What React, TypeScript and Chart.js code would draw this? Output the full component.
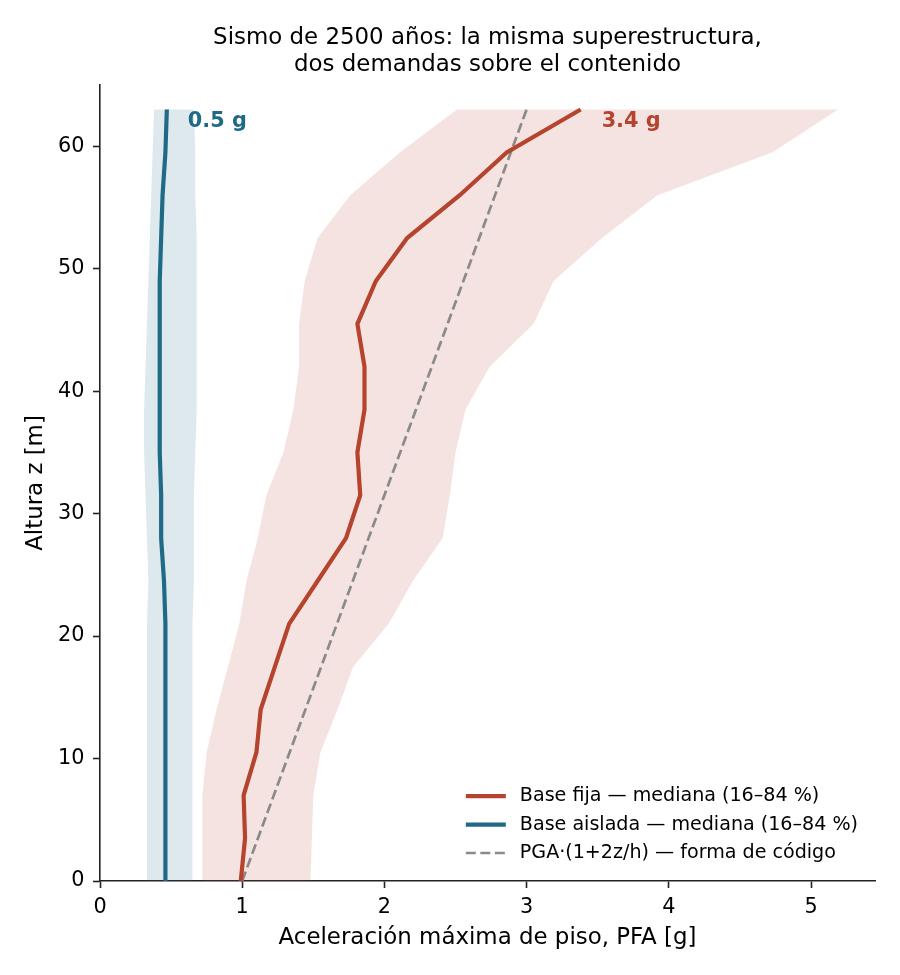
import { useEffect, useRef } from 'react';
import { Chart, registerables } from 'chart.js';

Chart.register(...registerables);

// Floor heights [m]
const HEIGHTS = [0, 3.5, 7, 10.5, 14, 17.5, 21, 24.5, 28, 31.5, 35, 38.5, 42, 45.5, 49, 52.5, 56, 59.5, 63];

// Fixed-base building: PFA median and 16/84 % fractiles [g]
const FIXED_MEDIAN = [0.99, 1.02, 1.01, 1.10, 1.13, 1.23, 1.33, 1.53, 1.73, 1.83, 1.81, 1.86, 1.86, 1.81, 1.94, 2.16, 2.53, 2.86, 3.38];
const FIXED_P16 = [0.72, 0.72, 0.72, 0.75, 0.82, 0.90, 0.98, 1.03, 1.11, 1.17, 1.29, 1.36, 1.40, 1.40, 1.44, 1.53, 1.76, 2.11, 2.51];
const FIXED_P84 = [1.48, 1.49, 1.50, 1.55, 1.67, 1.78, 2.03, 2.20, 2.41, 2.46, 2.50, 2.57, 2.74, 3.05, 3.19, 3.53, 3.92, 4.73, 5.19];

// Base-isolated building: PFA median and 16/84 % fractiles [g]
const ISO_MEDIAN = [0.46, 0.46, 0.46, 0.46, 0.46, 0.46, 0.46, 0.45, 0.43, 0.43, 0.42, 0.42, 0.42, 0.42, 0.42, 0.43, 0.44, 0.46, 0.47];
const ISO_P16 = [0.33, 0.33, 0.33, 0.33, 0.33, 0.33, 0.33, 0.34, 0.33, 0.32, 0.31, 0.31, 0.32, 0.33, 0.34, 0.35, 0.36, 0.37, 0.38];
const ISO_P84 = [0.65, 0.65, 0.65, 0.65, 0.65, 0.65, 0.65, 0.66, 0.66, 0.66, 0.67, 0.68, 0.68, 0.68, 0.68, 0.68, 0.67, 0.67, 0.66];

// Code-type linear amplification profile: end points (z, PFA)
const CODE_HEIGHTS = [0, 63];
const CODE_PFA = [1.0, 3.0];

const X_TICKS = [0, 1, 2, 3, 4, 5];
const Y_TICKS = [0, 10, 20, 30, 40, 50, 60];

const TITLE_LINES = ['Sismo de 2500 años: la misma superestructura,', 'dos demandas sobre el contenido'];
const X_LABEL = 'Aceleración máxima de piso, PFA [g]';
const Y_LABEL = 'Altura z [m]';
const SERIES_LABELS = [
  'Base fija — mediana (16–84 %)',
  'Base aislada — mediana (16–84 %)',
  'PGA·(1+2z/h) — forma de código',
];

const FONT = '"DejaVu Sans", sans-serif';
const RED = '#b5432d';
const BLUE = '#1f6b87';
const GRAY = '#8a8a8a';
const RED_BAND = 'rgba(181, 67, 45, 0.15)';
const BLUE_BAND = 'rgba(31, 107, 135, 0.15)';
const AXIS = '#222222';

const toPoints = (xs: number[], zs: number[]) => xs.map((v, i) => ({ x: v, y: zs[i] }));

const bands = [
  { lo: ISO_P16, hi: ISO_P84, color: BLUE_BAND },
  { lo: FIXED_P16, hi: FIXED_P84, color: RED_BAND },
];

const topLabels = [
  { values: ISO_MEDIAN, color: BLUE },
  { values: FIXED_MEDIAN, color: RED },
];

const profilePlugin = {
  id: 'profileExtras',
  beforeDatasetsDraw(chart: any) {
    const { ctx, chartArea, scales } = chart;
    const xs = scales.x;
    const ys = scales.y;
    ctx.save();
    ctx.beginPath();
    ctx.rect(chartArea.left, chartArea.top, chartArea.right - chartArea.left, chartArea.bottom - chartArea.top);
    ctx.clip();
    for (const band of bands) {
      ctx.beginPath();
      HEIGHTS.forEach((z, i) => {
        const px = xs.getPixelForValue(band.lo[i]);
        const py = ys.getPixelForValue(z);
        if (i === 0) ctx.moveTo(px, py);
        else ctx.lineTo(px, py);
      });
      for (let i = HEIGHTS.length - 1; i >= 0; i--) {
        ctx.lineTo(xs.getPixelForValue(band.hi[i]), ys.getPixelForValue(HEIGHTS[i]));
      }
      ctx.closePath();
      ctx.fillStyle = band.color;
      ctx.fill();
    }
    ctx.restore();
  },
  afterDraw(chart: any) {
    const { ctx, chartArea, scales } = chart;
    const xs = scales.x;
    const ys = scales.y;
    ctx.save();

    // Title
    ctx.fillStyle = '#000';
    ctx.font = `22.9px ${FONT}`;
    ctx.textAlign = 'center';
    ctx.textBaseline = 'middle';
    const cx = (chartArea.left + chartArea.right) / 2;
    TITLE_LINES.forEach((line, i) => ctx.fillText(line, cx, 38 + i * 27.5));

    // Roof values next to each median profile
    ctx.font = `bold 20.8px ${FONT}`;
    ctx.textAlign = 'left';
    for (const lab of topLabels) {
      const last = lab.values.length - 1;
      const px = xs.getPixelForValue(lab.values[last]);
      const py = ys.getPixelForValue(HEIGHTS[last]);
      ctx.fillStyle = lab.color;
      ctx.fillText(`${lab.values[last].toFixed(1)} g`, px + 21, py + 12);
    }

    // Legend, lower right inside the axes
    ctx.font = `19.1px ${FONT}`;
    const widths = SERIES_LABELS.map((t) => ctx.measureText(t).width);
    const maxW = Math.max(...widths);
    const handle = 40;
    const gap = 14;
    const textLeft = chartArea.right - 17 - maxW;
    const handleLeft = textLeft - gap - handle;
    const rowGap = 28.4;
    const lastRow = chartArea.bottom - 28;
    const datasets = chart.data.datasets;
    SERIES_LABELS.forEach((label, i) => {
      const yc = lastRow - (SERIES_LABELS.length - 1 - i) * rowGap;
      const ds = datasets[i];
      ctx.beginPath();
      ctx.strokeStyle = ds.borderColor;
      ctx.lineWidth = ds.borderWidth;
      ctx.setLineDash(ds.borderDash || []);
      ctx.lineCap = 'butt';
      ctx.moveTo(handleLeft, yc);
      ctx.lineTo(handleLeft + handle, yc);
      ctx.stroke();
      ctx.setLineDash([]);
      ctx.fillStyle = '#000';
      ctx.textBaseline = 'middle';
      ctx.fillText(label, textLeft, yc);
    });
    ctx.restore();
  },
};

export default function App() {
  const canvasRef = useRef<HTMLCanvasElement | null>(null);

  useEffect(() => {
    const canvas = canvasRef.current;
    if (!canvas) return;
    const chart = new Chart(canvas, {
      type: 'scatter',
      data: {
        datasets: [
          {
            label: SERIES_LABELS[0],
            data: toPoints(FIXED_MEDIAN, HEIGHTS),
            showLine: true,
            borderColor: RED,
            backgroundColor: RED,
            borderWidth: 4.2,
            pointRadius: 0,
            borderJoinStyle: 'miter',
            borderCapStyle: 'butt',
          },
          {
            label: SERIES_LABELS[1],
            data: toPoints(ISO_MEDIAN, HEIGHTS),
            showLine: true,
            borderColor: BLUE,
            backgroundColor: BLUE,
            borderWidth: 4.2,
            pointRadius: 0,
            borderCapStyle: 'butt',
          },
          {
            label: SERIES_LABELS[2],
            data: toPoints(CODE_PFA, CODE_HEIGHTS),
            showLine: true,
            borderColor: GRAY,
            backgroundColor: GRAY,
            borderWidth: 2.7,
            borderDash: [10, 4.5],
            pointRadius: 0,
            borderCapStyle: 'butt',
          },
        ],
      },
      options: {
        responsive: false,
        animation: false,
        layout: { padding: { top: 85, right: 25, bottom: 0, left: 0 } },
        plugins: {
          legend: { display: false },
          tooltip: { enabled: false },
          title: { display: false },
        },
        scales: {
          x: {
            type: 'linear',
            min: 0,
            max: 5.45,
            afterBuildTicks: (s: any) => {
              s.ticks = X_TICKS.map((v) => ({ value: v }));
            },
            afterFit: (s: any) => {
              s.height = 94;
            },
            grid: { drawOnChartArea: false, drawTicks: true, tickLength: 7, tickWidth: 1.6, tickColor: AXIS },
            border: { display: true, color: AXIS, width: 1.6 },
            ticks: { color: '#000', font: { family: FONT, size: 20.8 }, padding: 7, maxRotation: 0, autoSkip: false },
            title: {
              display: true,
              text: X_LABEL,
              color: '#000',
              font: { family: FONT, size: 22.9 },
              padding: { top: 0, bottom: 23 },
            },
          },
          y: {
            type: 'linear',
            min: 0,
            max: 65,
            afterBuildTicks: (s: any) => {
              s.ticks = Y_TICKS.map((v) => ({ value: v }));
            },
            afterFit: (s: any) => {
              s.width = 100;
            },
            grid: { drawOnChartArea: false, drawTicks: true, tickLength: 7, tickWidth: 1.6, tickColor: AXIS },
            border: { display: true, color: AXIS, width: 1.6 },
            ticks: { color: '#000', font: { family: FONT, size: 20.8 }, padding: 8.5, autoSkip: false },
            title: {
              display: true,
              text: Y_LABEL,
              color: '#000',
              font: { family: FONT, size: 22.9 },
              padding: { top: 22, bottom: 0 },
            },
          },
        },
      },
      plugins: [profilePlugin],
    } as any);
    return () => chart.destroy();
  }, []);

  return (
    <div style={{ position: 'absolute', left: 0, top: 0, width: 900, height: 975, background: '#fff' }}>
      <canvas ref={canvasRef} width={900} height={975} style={{ display: 'block' }} />
    </div>
  );
}
